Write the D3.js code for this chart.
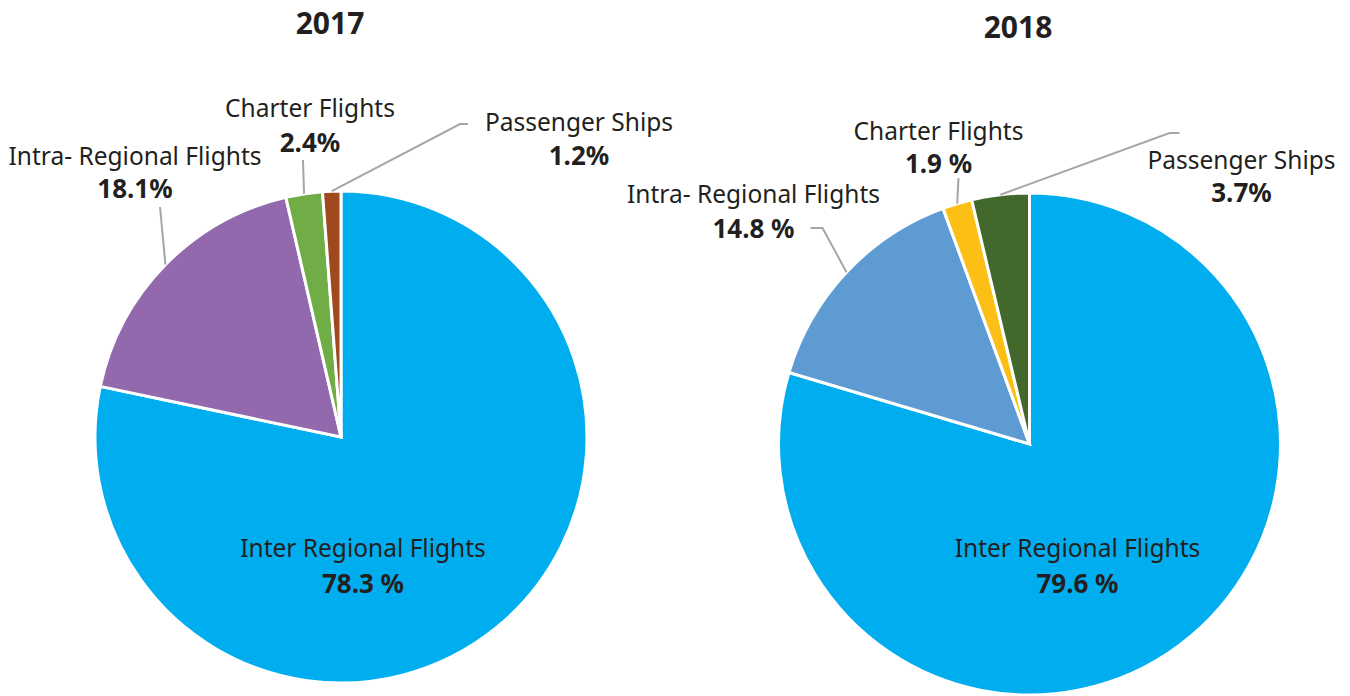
<!DOCTYPE html>
<html>
<head>
<meta charset="utf-8">
<script src="https://cdn.jsdelivr.net/npm/d3@7"></script>
<style>
  body { margin: 0; background: #fff; }
  svg text { font-family: "Noto Sans", "Open Sans", sans-serif; fill: #231f20; }
  .title { font-weight: bold; font-size: 30px; }
  .pct { font-weight: bold; font-size: 26px; }
  .name { font-size: 24.5px; }
</style>
</head>
<body>
<svg></svg>
<script>
// data
var categories = ['Inter Regional Flights', 'Intra- Regional Flights', 'Charter Flights', 'Passenger Ships'];
var values2017 = [78.3, 18.1, 2.4, 1.2];
var values2018 = [79.6, 14.8, 1.9, 3.7];
var pctLabels2017 = ['78.3 %', '18.1%', '2.4%', '1.2%'];
var pctLabels2018 = ['79.6 %', '14.8 %', '1.9 %', '3.7%'];
var colors2017 = ['#00aeef', '#9169ac', '#70ad47', '#9e4a1e'];
var colors2018 = ['#00aeef', '#5e9bd3', '#fbbf16', '#43682b'];

var width = 1350, height = 696;
var svg = d3.select('svg').attr('width', width).attr('height', height);

// layout for each pie: center, radius, label spots (relative to center), leader elbows
var charts = [
  {
    title: '2017', titleX: 330, titleY: 34,
    cx: 341, cy: 437, r: 246,
    values: values2017, pcts: pctLabels2017, colors: colors2017,
    labels: [
      { x: 22, y: 120, gap: 36 },
      { x: -206, y: -272, gap: 33 },
      { x: -31, y: -320, gap: 35 },
      { x: 238, y: -306, gap: 34 }
    ],
    leaders: [
      null,
      [[-181, -230]],
      [[-38, -277]],
      [[119, -313], [127, -313]]
    ]
  },
  {
    title: '2018', titleX: 1018, titleY: 38,
    cx: 1029.5, cy: 444, r: 251,
    values: values2018, pcts: pctLabels2018, colors: colors2018,
    labels: [
      { x: 48, y: 113, gap: 36 },
      { x: -276, y: -241, gap: 35 },
      { x: -91, y: -304, gap: 33 },
      { x: 212, y: -275, gap: 33 }
    ],
    leaders: [
      null,
      [[-207, -216], [-219, -216]],
      [[-71, -266]],
      [[140, -311], [150, -311]]
    ]
  }
];

var pie = d3.pie().sort(null).value(function(d) { return d; });

charts.forEach(function(c) {
  var g = svg.append('g')
    .attr('transform', 'translate(' + c.cx + ',' + c.cy + ')');
  var arc = d3.arc().innerRadius(0).outerRadius(c.r);
  var arcs = pie(c.values);

  // slices
  g.selectAll('.slice')
    .data(arcs)
    .enter().append('path')
    .attr('class', 'slice')
    .attr('d', arc)
    .style('fill', function(d, i) { return c.colors[i]; })
    .style('stroke', '#fff')
    .style('stroke-width', 3)
    .style('stroke-linejoin', 'miter');

  // leader lines from the middle of each slice's rim
  arcs.forEach(function(d, i) {
    if (!c.leaders[i]) return;
    var a = (d.startAngle + d.endAngle) / 2;
    var pts = [[Math.sin(a) * c.r, -Math.cos(a) * c.r]].concat(c.leaders[i]);
    g.append('path')
      .attr('d', d3.line()(pts))
      .style('fill', 'none')
      .style('stroke', '#a6a6a6')
      .style('stroke-width', 2);
  });

  // labels
  var lab = g.selectAll('.label')
    .data(arcs)
    .enter().append('g')
    .attr('class', 'label')
    .attr('transform', function(d, i) {
      return 'translate(' + c.labels[i].x + ',' + c.labels[i].y + ')';
    });
  lab.append('text')
    .attr('class', 'name')
    .style('text-anchor', 'middle')
    .text(function(d, i) { return categories[i]; });
  lab.append('text')
    .attr('class', 'pct')
    .attr('y', function(d, i) { return c.labels[i].gap; })
    .style('text-anchor', 'middle')
    .text(function(d, i) { return c.pcts[i]; });

  // title
  svg.append('text')
    .attr('class', 'title')
    .attr('x', c.titleX)
    .attr('y', c.titleY)
    .style('text-anchor', 'middle')
    .text(c.title);
});
</script>
</body>
</html>
